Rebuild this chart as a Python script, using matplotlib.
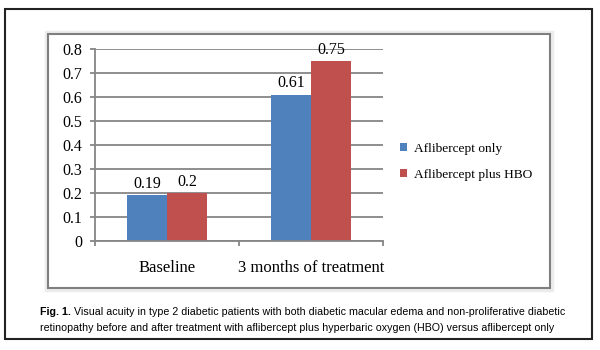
import matplotlib
matplotlib.use("Agg")
import matplotlib.pyplot as plt
from matplotlib.patches import Rectangle
import numpy as np

categories = ["Baseline", "3 months of treatment"]
series_names = ["Aflibercept only", "Aflibercept plus HBO"]
aflibercept_only = [0.19, 0.61]
aflibercept_hbo = [0.20, 0.75]
value_labels_only = ["0.19", "0.61"]
value_labels_hbo = ["0.2", "0.75"]
yticks = [0, 0.1, 0.2, 0.3, 0.4, 0.5, 0.6, 0.7, 0.8]
ytick_labels = ["0", "0.1", "0.2", "0.3", "0.4", "0.5", "0.6", "0.7", "0.8"]
caption_bold = "Fig. 1."
caption_rest1 = " Visual acuity in type 2 diabetic patients with both diabetic macular edema and non-proliferative diabetic"
caption_line2 = "retinopathy before and after treatment with aflibercept plus hyperbaric oxygen (HBO) versus aflibercept only"

W, H = 600, 350
fig = plt.figure(figsize=(6, 3.5), dpi=100)
fig.patch.set_facecolor("white")

def fx(x): return x / W
def fy(y): return 1 - y / H

# outer black frame
fig.patches.append(Rectangle((fx(5), fy(339)), fx(592) - fx(5), fy(9) - fy(339),
                             transform=fig.transFigure, fill=False, edgecolor="#222222", linewidth=1.5))
# inner chart frame shadow + border
fig.patches.append(Rectangle((fx(46), fy(290)), fx(552) - fx(46), fy(32) - fy(290),
                             transform=fig.transFigure, fill=False, edgecolor="#ececec", linewidth=2.5))
fig.patches.append(Rectangle((fx(48), fy(288)), fx(550) - fx(48), fy(34) - fy(288),
                             transform=fig.transFigure, fill=False, edgecolor="#7f7f7f", linewidth=1.5))

ax = fig.add_axes([fx(95), fy(241), fx(383) - fx(95), fy(49) - fy(241)])
serif = "Liberation Serif"
x = np.arange(len(categories))
bw = 0.28
b1 = ax.bar(x - bw / 2, aflibercept_only, bw, color="#4F81BD", label=series_names[0])
b2 = ax.bar(x + bw / 2, aflibercept_hbo, bw, color="#C0504D", label=series_names[1])
for rect, lab in zip(b1, value_labels_only):
    ax.text(rect.get_x() + rect.get_width() / 2, rect.get_height() + 0.03, lab,
            ha="center", va="baseline", fontsize=11.5, family=serif)
for rect, lab in zip(b2, value_labels_hbo):
    ax.text(rect.get_x() + rect.get_width() / 2, rect.get_height() + 0.03, lab,
            ha="center", va="baseline", fontsize=11.5, family=serif)

ax.set_xlim(-0.5, len(categories) - 0.5)
ax.set_ylim(0, 0.8)
ax.set_yticks(yticks)
ax.set_yticklabels(ytick_labels, family=serif, fontsize=11.5)
ax.yaxis.grid(True, color="#868686", linewidth=1.3)
ax.set_axisbelow(True)
ax.set_xticks(x)
ax.set_xticklabels(categories, family=serif, fontsize=12)
ax.tick_params(axis="x", length=0, pad=14)
ax.set_xticks(np.arange(-0.5, len(categories), 1.0), minor=True)
ax.tick_params(axis="x", which="minor", length=3.6, color="#868686", width=1.3)
ax.tick_params(axis="y", length=3.6, color="#868686", width=1.3, pad=5.5)
for s in ["top", "right"]:
    ax.spines[s].set_visible(False)
for s in ["left", "bottom"]:
    ax.spines[s].set_color("#868686")
    ax.spines[s].set_linewidth(1.3)

leg = fig.legend(handles=[b1, b2], labels=series_names, loc="upper left",
                 bbox_to_anchor=(fx(400), fy(143)), frameon=False,
                 prop={"family": serif, "size": 9.6}, handlelength=0.55, handleheight=0.55,
                 handletextpad=0.5, labelspacing=1.05, borderaxespad=0, borderpad=0)

# caption
cap_size = 7.7
t1 = fig.text(fx(40), fy(312), caption_bold, fontsize=cap_size, fontweight="bold",
              family="Liberation Sans", va="center", ha="left")
fig.canvas.draw()
bb = t1.get_window_extent()
fig.text(bb.x1 / fig.bbox.width, fy(312), caption_rest1, fontsize=cap_size,
         family="Liberation Sans", va="center", ha="left")
fig.text(fx(40), fy(328), caption_line2, fontsize=cap_size,
         family="Liberation Sans", va="center", ha="left")

fig.savefig("out.png", dpi=100)
